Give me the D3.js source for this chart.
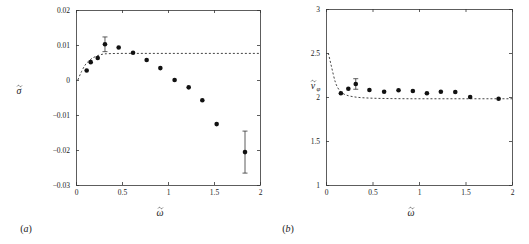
<!DOCTYPE html>
<html>
<head>
<meta charset="utf-8">
<script src="https://cdn.jsdelivr.net/npm/d3@7"></script>
<style>
  body { margin: 0; background: #fff; }
  svg { display: block; }
  text { font-family: "Liberation Serif", "Times New Roman", serif !important; }
  .axis path, .axis line { stroke: #333; stroke-width: 0.8; }
  .axis text { font-size: 7.5px; fill: #222; }
</style>
</head>
<body>
<div id="chart"></div>
<script>
// panel (a): growth rate sigma vs omega
var omegaA = [0.116, 0.16, 0.236, 0.315, 0.464, 0.62, 0.768, 0.917, 1.072, 1.225, 1.373, 1.529, 1.837];
var sigma  = [0.0027, 0.0051, 0.0063, 0.0102, 0.0093, 0.0078, 0.0057, 0.0034, 0.0, -0.0021, -0.0058, -0.0126, -0.0206];
var sigmaErr = [0, 0, 0, 0.0021, 0, 0, 0, 0, 0, 0, 0, 0, 0.006];
var curveAx = [0.02, 0.06, 0.1, 0.15, 0.23, 0.33, 0.5, 1.0, 1.5, 2.0];
var curveAy = [0.0, 0.0024, 0.0043, 0.0057, 0.0069, 0.0075, 0.0076, 0.0076, 0.0076, 0.0076];
var yTicksA = [-0.03, -0.02, -0.01, 0, 0.01, 0.02];

// panel (b): phase velocity vs omega
var omegaB = [0.16, 0.24, 0.32, 0.467, 0.625, 0.78, 0.934, 1.085, 1.235, 1.39, 1.55, 1.856];
var vphi   = [2.042, 2.094, 2.148, 2.08, 2.06, 2.076, 2.068, 2.042, 2.06, 2.057, 2.0, 1.98];
var vphiErr = [0, 0, 0.06, 0, 0, 0, 0, 0, 0, 0, 0, 0];
var curveBx = [0.025, 0.06, 0.1, 0.15, 0.24, 0.42, 0.7, 1.0, 1.5, 2.0];
var curveBy = [2.5, 2.34, 2.17, 2.07, 2.015, 1.99, 1.982, 1.98, 1.98, 1.98];
var yTicksB = [1, 1.5, 2, 2.5, 3];

var xTicks = [0, 0.5, 1, 1.5, 2];

var svg = d3.select("#chart").append("svg")
    .attr("width", 529)
    .attr("height", 244);

// letter with a small tilde (drawn as a path) above it
function tildeLabel(g, x, y, letter, sub) {
  var t = g.append("g").attr("transform", "translate(" + x + "," + y + ")");
  t.append("text")
      .attr("text-anchor", "middle")
      .style("font-size", "10px").style("font-style", "italic").attr("fill", "#222")
      .text(letter);
  t.append("path")
      .attr("d", "M-2,-7.5 C-1,-9 0,-9 0.5,-8 S2,-7 3,-8.5")
      .attr("fill", "none").attr("stroke", "#333").attr("stroke-width", 0.6);
  if (sub) {
    t.append("text")
        .attr("x", 3.5).attr("y", 2)
        .style("font-size", "7px").style("font-style", "italic").attr("fill", "#222")
        .text(sub);
  }
}

function panel(opts) {
  var g = svg.append("g")
      .attr("transform", "translate(" + opts.left + "," + opts.top + ")");
  var w = opts.width, h = opts.height;

  var x = d3.scaleLinear().domain([0, 2]).range([0, w]);
  var y = d3.scaleLinear().domain(opts.ydomain).range([h, 0]);

  // ticks point inwards on all four sides
  g.append("g").attr("class", "axis")
      .attr("transform", "translate(0," + h + ")")
      .call(d3.axisBottom(x).tickValues(xTicks).tickSizeInner(-3).tickSizeOuter(0)
        .tickPadding(5).tickFormat(d3.format("")));
  g.append("g").attr("class", "axis")
      .call(d3.axisTop(x).tickValues(xTicks).tickSizeInner(-3).tickSizeOuter(0).tickFormat(""));
  g.append("g").attr("class", "axis")
      .call(d3.axisLeft(y).tickValues(opts.yticks).tickSizeInner(-3).tickSizeOuter(0)
        .tickPadding(6).tickFormat(opts.yfmt));
  g.append("g").attr("class", "axis")
      .attr("transform", "translate(" + w + ",0)")
      .call(d3.axisRight(y).tickValues(opts.yticks).tickSizeInner(-3).tickSizeOuter(0).tickFormat(""));

  var line = d3.line().x(function(d) { return x(d[0]); }).y(function(d) { return y(d[1]); })
      .curve(d3.curveMonotoneX);
  g.append("path")
      .datum(d3.zip(opts.cx, opts.cy))
      .attr("fill", "none")
      .attr("stroke", "#444")
      .attr("stroke-width", 1)
      .attr("stroke-dasharray", "2,2")
      .attr("d", line);

  var pts = opts.px.map(function(d, i) { return {x: d, y: opts.py[i], e: opts.pe[i]}; });

  var eb = g.selectAll(".err").data(pts.filter(function(d) { return d.e > 0; }))
    .enter().append("g").attr("class", "err")
      .attr("stroke", "#333").attr("stroke-width", 0.8);
  eb.append("line")
      .attr("x1", function(d) { return x(d.x); }).attr("x2", function(d) { return x(d.x); })
      .attr("y1", function(d) { return y(d.y - d.e); }).attr("y2", function(d) { return y(d.y + d.e); });
  eb.append("line")
      .attr("x1", function(d) { return x(d.x) - 2.5; }).attr("x2", function(d) { return x(d.x) + 2.5; })
      .attr("y1", function(d) { return y(d.y + d.e); }).attr("y2", function(d) { return y(d.y + d.e); });
  eb.append("line")
      .attr("x1", function(d) { return x(d.x) - 2.5; }).attr("x2", function(d) { return x(d.x) + 2.5; })
      .attr("y1", function(d) { return y(d.y - d.e); }).attr("y2", function(d) { return y(d.y - d.e); });

  g.selectAll(".dot").data(pts)
    .enter().append("circle")
      .attr("class", "dot")
      .attr("cx", function(d) { return x(d.x); })
      .attr("cy", function(d) { return y(d.y); })
      .attr("r", 2.3)
      .attr("fill", "#111");

  // axis titles
  tildeLabel(g, w / 2 - 8, h + 31, "ω");
  tildeLabel(g, opts.ytitleX, opts.ytitleY, opts.ytitle, opts.ysub);

  g.append("text")
      .attr("x", opts.tagX).attr("y", h + 47)
      .attr("text-anchor", "middle")
      .attr("fill", "#222")
      .style("font-size", "10px")
      .html(opts.tag);
}

panel({
  left: 76, top: 10, width: 184, height: 175,
  ydomain: [-0.03, 0.02], yticks: yTicksA, yfmt: d3.format(""),
  px: omegaA, py: sigma, pe: sigmaErr, cx: curveAx, cy: curveAy,
  ytitle: "σ", ytitleX: -57, ytitleY: 84,
  tag: "(<tspan font-style='italic'>a</tspan>)", tagX: -50
});

panel({
  left: 326, top: 9, width: 186, height: 176,
  ydomain: [1, 3], yticks: yTicksB, yfmt: d3.format(""),
  px: omegaB, py: vphi, pe: vphiErr, cx: curveBx, cy: curveBy,
  ytitle: "v", ysub: "φ", ytitleX: -13, ytitleY: 80,
  tag: "(<tspan font-style='italic'>b</tspan>)", tagX: -38
});
</script>
</body>
</html>
